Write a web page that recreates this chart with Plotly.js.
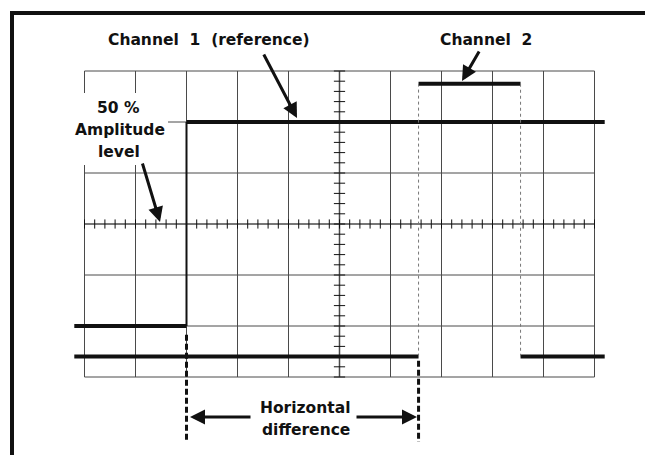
<!DOCTYPE html>
<html>
<head>
<meta charset="utf-8">
<script src="https://cdn.plot.ly/plotly-3.0.1.min.js"></script>
<style>html,body{margin:0;padding:0;background:#fff;}#chart{width:645px;height:455px;}</style>
</head>
<body>
<div id="chart"></div>
<script>
// ---- data (in screen divisions; centre of graticule = 0,0) ----
const ch1Times  = [-5.2, -3.0, 5.2];          // trace start, rising edge, trace end
const ch1Levels = [-2.0, 2.0];                // low, high
const ch2Times  = [-5.2, 1.55, 3.55, 5.2];    // trace start, rising edge, falling edge, trace end
const ch2Levels = [-2.6, 2.75];               // low, high
const crossTimes = [-3.0, 1.55];              // 50% amplitude crossings
const gridCols = [-5, -4, -3, -2, -1, 0, 1, 2, 3, 4, 5];
const gridRows = [-3, -2, -1, 0, 1, 2, 3];
const labels = {
  ch1: 'Channel  1  (reference)',
  ch2: 'Channel  2',
  amp: ['50 %', 'Amplitude', 'level'],
  diff: ['Horizontal', 'difference']
};

// ---- pixel helpers for decoration placement ----
const W = 645, H = 455, CX = 339.5, CY = 224, S = 51;
const px = p => (p - CX) / S;
const py = p => (CY - p) / S;

const INK = '#111';
const GRID = '#4a4a4a';
const traces = [];
function seg(x, y, width, color, dash) {
  traces.push({type: 'scatter', mode: 'lines', x: x, y: y, hoverinfo: 'skip', showlegend: false,
    line: {color: color || INK, width: width, dash: dash || 'solid', shape: 'linear'}, connectgaps: false});
}
// Channel 1
seg([ch1Times[0], ch1Times[1]], [ch1Levels[0], ch1Levels[0]], 4);
seg([ch1Times[1], ch1Times[2]], [ch1Levels[1], ch1Levels[1]], 4);
seg([ch1Times[1], ch1Times[1]], [ch1Levels[0], ch1Levels[1]], 2);
// Channel 2
seg([ch2Times[0], ch2Times[1], null, ch2Times[2], ch2Times[3]],
    [ch2Levels[0], ch2Levels[0], null, ch2Levels[0], ch2Levels[0]], 4);
seg([ch2Times[1], ch2Times[2]], [ch2Levels[1], ch2Levels[1]], 4);
seg([ch2Times[1], ch2Times[1], null, ch2Times[2], ch2Times[2]],
    [ch2Levels[0], ch2Levels[1], null, ch2Levels[1], ch2Levels[0]], 1, '#777', 'dot');
// crossing markers
seg([crossTimes[0], crossTimes[0], null, crossTimes[1], crossTimes[1]],
    [ch1Levels[0] - 0.17, py(442), null, ch2Levels[0] - 0.08, py(442)], 3, INK, '6px,3px');

// ---- graticule shapes ----
const shapes = [];
gridCols.forEach(c => shapes.push({type: 'line', layer: 'below', x0: c, x1: c, y0: gridRows[0], y1: gridRows[gridRows.length - 1], line: {color: GRID, width: c === 0 ? 1.5 : 1}}));
gridRows.forEach(r => shapes.push({type: 'line', layer: 'below', y0: r, y1: r, x0: gridCols[0], x1: gridCols[gridCols.length - 1], line: {color: GRID, width: r === 0 ? 1.5 : 1}}));
for (let i = -25; i <= 25; i++) {
  const x = i / 5;
  shapes.push({type: 'line', layer: 'below', x0: x, x1: x, y0: -0.09, y1: 0.09, line: {color: INK, width: 1}});
}
for (let j = -15; j <= 15; j++) {
  const y = j / 5;
  shapes.push({type: 'line', layer: 'below', x0: -0.11, x1: 0.11, y0: y, y1: y, line: {color: INK, width: 1}});
}
// white block behind the "50 % Amplitude level" label
shapes.push({type: 'rect', layer: 'below', x0: px(70), x1: px(168), y0: py(93), y1: py(165), fillcolor: '#fff', line: {width: 0}});
// outer frame
shapes.push({type: 'line', layer: 'above', x0: px(10), x1: px(W + 5), y0: py(13), y1: py(13), line: {color: INK, width: 4}});
shapes.push({type: 'line', layer: 'above', x0: px(12), x1: px(12), y0: py(11), y1: py(H + 5), line: {color: INK, width: 4}});

// ---- annotations ----
const F = {family: '"DejaVu Sans", "Liberation Sans", sans-serif', size: 15.5, color: INK, weight: 700};
const ann = [];
function txt(t, xp, yp) { ann.push({text: t, x: px(xp), y: py(yp), xref: 'x', yref: 'y', showarrow: false, font: F, xanchor: 'center', yanchor: 'middle'}); }
function arrow(tx, ty, hx, hy) {
  ann.push({text: '', x: px(hx), y: py(hy), ax: px(tx), ay: py(ty), xref: 'x', yref: 'y', axref: 'x', ayref: 'y',
    showarrow: true, arrowhead: 2, arrowsize: 1, arrowwidth: 3, arrowcolor: INK, standoff: 0});
}
txt(labels.ch1, 209, 40);
txt(labels.ch2, 486, 40);
txt(labels.amp[0], 118, 108);
txt(labels.amp[1], 120, 130);
txt(labels.amp[2], 119, 152);
txt(labels.diff[0], 305, 408);
txt(labels.diff[1], 306, 430);
arrow(263, 53, 297, 118);
arrow(480, 50, 462, 81);
arrow(142, 162, 160, 222);
arrow(252, 417, 190, 417);
arrow(355, 417, 417, 417);

const layout = {
  width: W, height: H,
  margin: {l: 0, r: 0, t: 0, b: 0, pad: 0},
  paper_bgcolor: '#fff', plot_bgcolor: '#fff',
  xaxis: {range: [px(0), px(W)], visible: false, fixedrange: true},
  yaxis: {range: [py(H), py(0)], visible: false, fixedrange: true},
  shapes: shapes,
  annotations: ann,
  showlegend: false
};
Plotly.newPlot('chart', traces, layout, {staticPlot: true, displayModeBar: false});
</script>
</body>
</html>
